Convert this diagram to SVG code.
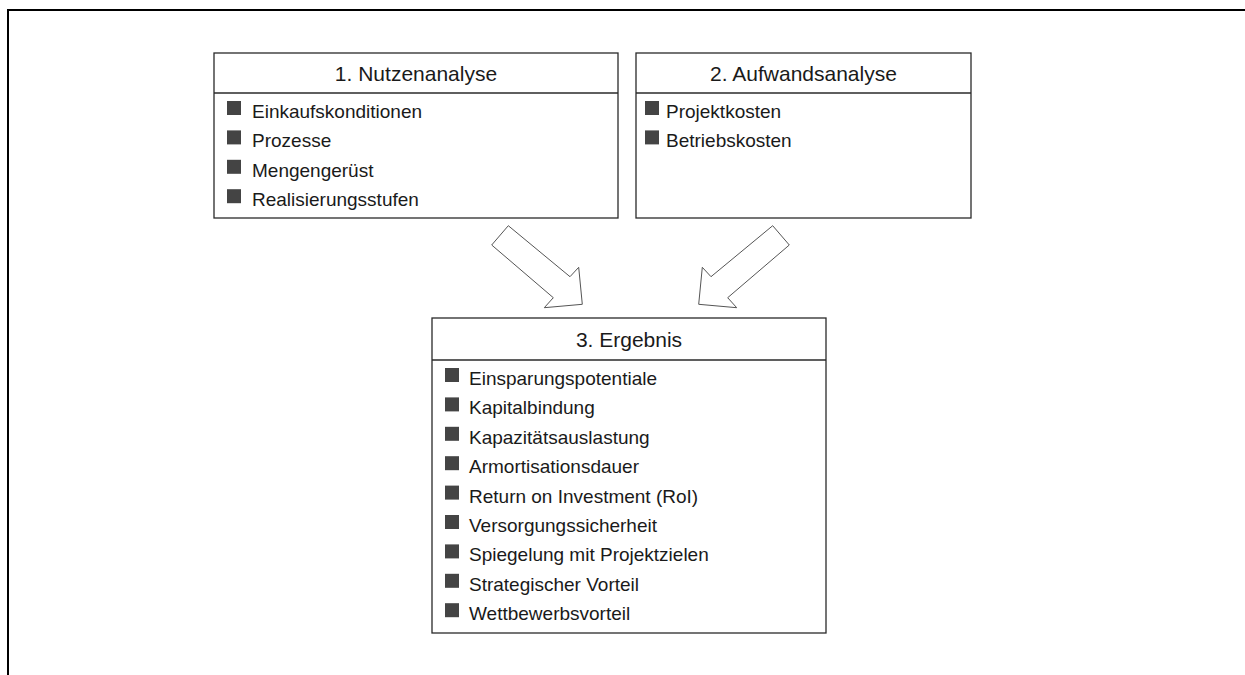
<svg xmlns="http://www.w3.org/2000/svg" width="1245" height="675" viewBox="0 0 1245 675">
  <style>
    .frame { fill: none; stroke: #000; stroke-width: 2; }
    .box { fill: #fff; stroke: #2a2a2a; stroke-width: 1.3; }
    .sep { stroke: #2a2a2a; stroke-width: 1.3; }
    .head { font-family: "Liberation Sans", Arial, sans-serif; font-size: 21px; fill: #1a1a1a; text-anchor: middle; }
    .item { font-family: "Liberation Sans", Arial, sans-serif; font-size: 19px; fill: #1a1a1a; }
    .bullet { fill: #444; }
    .arrow { fill: #fff; stroke: #555; stroke-width: 1; stroke-linejoin: miter; }
  </style>
  <defs>
    <rect id="sq" class="bullet" width="14" height="14"/>
  </defs>

  <rect width="1245" height="675" fill="#fff"/>
  <!-- page frame: top and left edges only -->
  <path class="frame" d="M8,675 V10 H1245"/>

  <g id="nutzenanalyse">
    <rect class="box" x="214" y="53" width="404" height="165"/>
    <line class="sep" x1="214" y1="93" x2="618" y2="93"/>
    <text class="head" x="416" y="81">1. Nutzenanalyse</text>
    <use href="#sq" x="227" y="101"/>
    <text class="item" x="252" y="118">Einkaufskonditionen</text>
    <use href="#sq" x="227" y="130.4"/>
    <text class="item" x="252" y="147.4">Prozesse</text>
    <use href="#sq" x="227" y="159.8"/>
    <text class="item" x="252" y="176.8">Mengengerüst</text>
    <use href="#sq" x="227" y="189.2"/>
    <text class="item" x="252" y="206.2">Realisierungsstufen</text>
  </g>

  <g id="aufwandsanalyse">
    <rect class="box" x="636" y="53" width="335" height="165"/>
    <line class="sep" x1="636" y1="93" x2="971" y2="93"/>
    <text class="head" x="803.5" y="81">2. Aufwandsanalyse</text>
    <use href="#sq" x="645" y="101"/>
    <text class="item" x="666" y="118">Projektkosten</text>
    <use href="#sq" x="645" y="130.4"/>
    <text class="item" x="666" y="147.4">Betriebskosten</text>
  </g>

  <g id="connectors">
    <polygon class="arrow" points="508.3,225.7 570,276.7 578.7,267.3 582.3,304.3 544.3,307.7 553.3,297.7 491.7,245"/>
    <polygon class="arrow" points="772.7,225.7 711,276.7 702.3,267.3 698.7,304.3 736.7,307.7 727.7,297.7 789.3,245"/>
  </g>

  <g id="ergebnis">
    <rect class="box" x="432" y="318" width="394" height="315"/>
    <line class="sep" x1="432" y1="360" x2="826" y2="360"/>
    <text class="head" x="629" y="347">3. Ergebnis</text>
    <use href="#sq" x="445" y="368"/>
    <text class="item" x="469" y="385">Einsparungspotentiale</text>
    <use href="#sq" x="445" y="397.4"/>
    <text class="item" x="469" y="414.4">Kapitalbindung</text>
    <use href="#sq" x="445" y="426.8"/>
    <text class="item" x="469" y="443.8">Kapazitätsauslastung</text>
    <use href="#sq" x="445" y="456.2"/>
    <text class="item" x="469" y="473.2">Armortisationsdauer</text>
    <use href="#sq" x="445" y="485.6"/>
    <text class="item" x="469" y="502.6">Return on Investment (RoI)</text>
    <use href="#sq" x="445" y="515"/>
    <text class="item" x="469" y="532">Versorgungssicherheit</text>
    <use href="#sq" x="445" y="544.4"/>
    <text class="item" x="469" y="561.4">Spiegelung mit Projektzielen</text>
    <use href="#sq" x="445" y="573.8"/>
    <text class="item" x="469" y="590.8">Strategischer Vorteil</text>
    <use href="#sq" x="445" y="603.2"/>
    <text class="item" x="469" y="620.2">Wettbewerbsvorteil</text>
  </g>
</svg>
